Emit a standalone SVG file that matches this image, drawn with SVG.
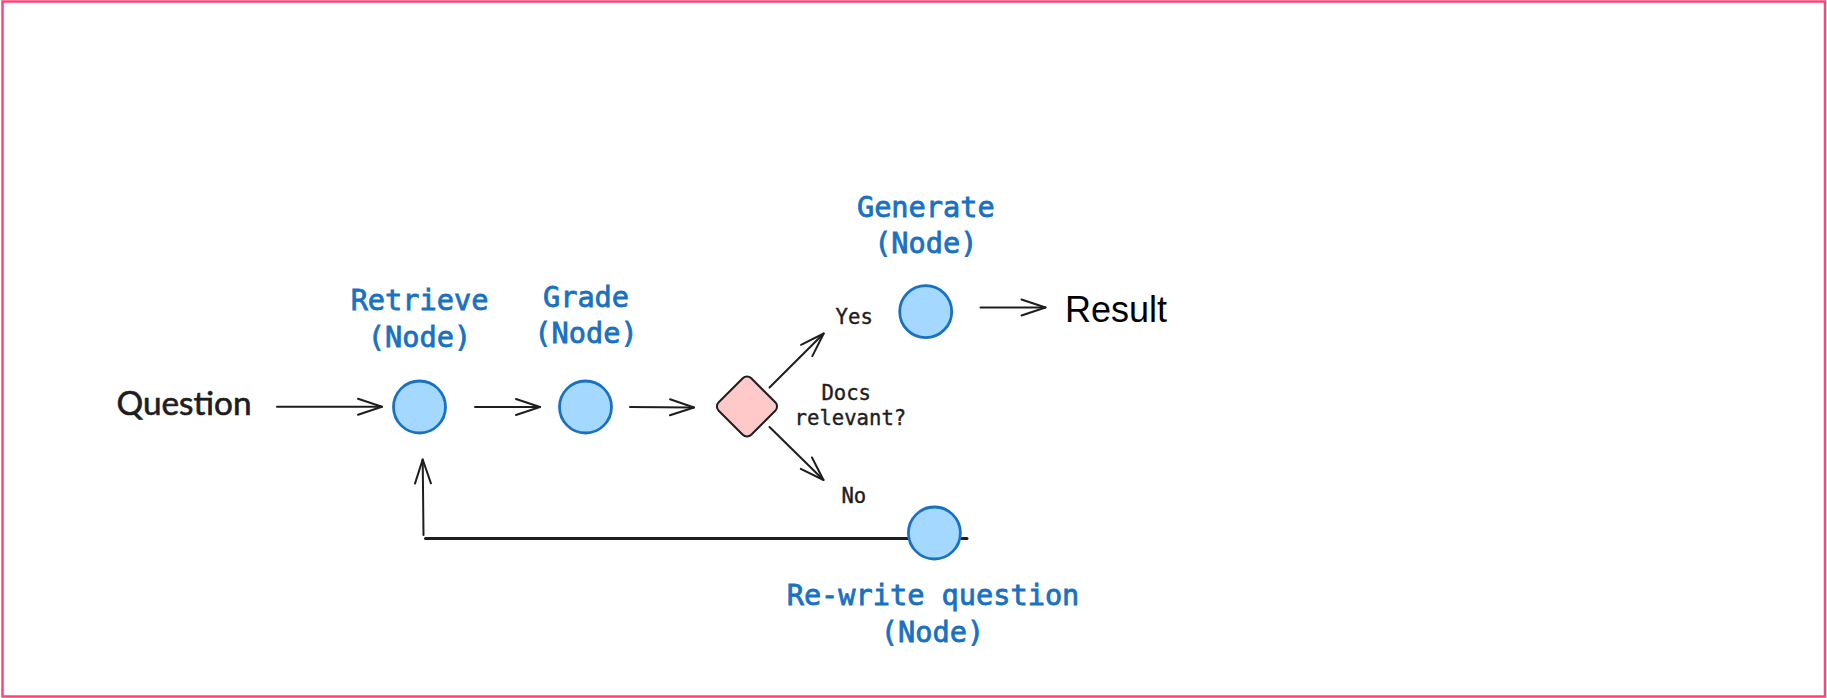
<svg xmlns="http://www.w3.org/2000/svg" width="1827" height="698" viewBox="0 0 1827 698">
  <style>
    .node { fill: #a5d8ff; stroke: #1971c2; stroke-width: 2.8; }
    .label { font-family: "DejaVu Sans Mono", "Liberation Mono", monospace; font-size: 28.6px; font-weight: normal; fill: #1971c2; stroke: #1971c2; stroke-width: 0.8; text-anchor: middle; }
    .small { font-family: "DejaVu Sans Mono", "Liberation Mono", monospace; font-size: 20.6px; fill: #1e1e1e; stroke: #1e1e1e; stroke-width: 0.4; }
    .edge { fill: none; stroke: #1e1e1e; stroke-width: 2; stroke-linecap: round; }
  </style>
  <defs>
    <marker id="ah" viewBox="-27 -11 30 22" refX="0" refY="0" markerWidth="30" markerHeight="22" markerUnits="userSpaceOnUse" orient="auto">
      <path d="M-24,-8 L0,0 L-24,8" fill="none" stroke="#1e1e1e" stroke-width="2" stroke-linecap="round" stroke-linejoin="round"/>
    </marker>
  </defs>
  <rect x="2.5" y="1.5" width="1822.5" height="695" fill="#ffffff" stroke="#ff4577" stroke-width="2.5"/>

  <g id="connectors">
    <line class="edge" x1="277" y1="406.7" x2="382" y2="406.7" marker-end="url(#ah)"/>
    <line class="edge" x1="475" y1="407" x2="540" y2="407" marker-end="url(#ah)"/>
    <line class="edge" x1="630" y1="407" x2="694" y2="407.5" marker-end="url(#ah)"/>
    <line class="edge" x1="769.5" y1="387.5" x2="823.7" y2="333.5" marker-end="url(#ah)"/>
    <line class="edge" x1="769.5" y1="427" x2="823.5" y2="480" marker-end="url(#ah)"/>
    <line class="edge" x1="980.5" y1="307.5" x2="1045.5" y2="307.5" marker-end="url(#ah)"/>
    <line class="edge" x1="425.5" y1="538.5" x2="967" y2="538.5" style="stroke-width:3"/>
    <line class="edge" x1="423.5" y1="535" x2="422.7" y2="459.5" marker-end="url(#ah)"/>
  </g>

  <g id="question">
    <text x="116.5" y="415" font-family="Lato, 'Liberation Sans', sans-serif" font-size="32" fill="#1e1e1e" stroke="#1e1e1e" stroke-width="0.6" textLength="135" lengthAdjust="spacingAndGlyphs">Question</text>
  </g>

  <g id="retrieve">
    <circle class="node" cx="419.5" cy="407" r="26"/>
    <text class="label" x="419.5" y="310">Retrieve</text>
    <text class="label" x="419.5" y="347">(Node)</text>
  </g>

  <g id="grade">
    <circle class="node" cx="585.5" cy="407" r="26"/>
    <text class="label" x="586" y="306.5">Grade</text>
    <text class="label" x="586" y="343">(Node)</text>
  </g>

  <g id="decision">
    <rect x="724" y="383.5" width="46" height="46" rx="6" fill="#ffc9c9" stroke="#1e1e1e" stroke-width="2" transform="rotate(45 747 406.5)"/>
    <text class="small" x="821.4" y="400">Docs</text>
    <text class="small" x="794.6" y="425">relevant?</text>
  </g>

  <g id="yes-label">
    <text class="small" x="835.6" y="324">Yes</text>
  </g>
  <g id="no-label">
    <text class="small" x="841.4" y="502.7">No</text>
  </g>

  <g id="generate">
    <circle class="node" cx="925.7" cy="311.7" r="26"/>
    <text class="label" x="925.8" y="216.7">Generate</text>
    <text class="label" x="925.8" y="252.7">(Node)</text>
  </g>

  <g id="result">
    <text x="1065" y="321.7" font-family="'Liberation Sans', Arial, sans-serif" font-size="36" fill="#000000">Result</text>
  </g>

  <g id="rewrite">
    <circle class="node" cx="934.4" cy="533" r="26"/>
    <text class="label" x="933" y="605">Re-write question</text>
    <text class="label" x="932.5" y="641.7">(Node)</text>
  </g>
</svg>
